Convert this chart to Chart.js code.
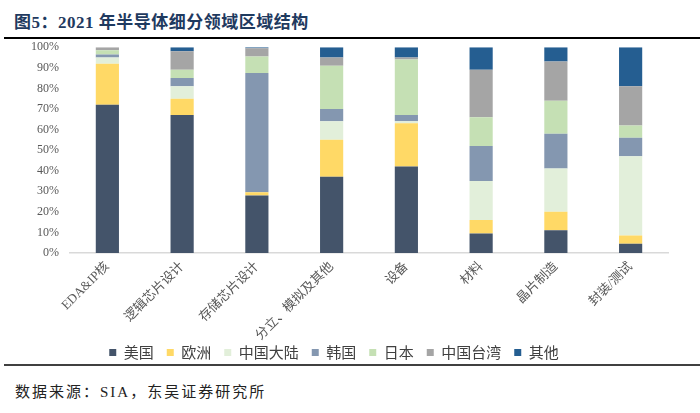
<!DOCTYPE html>
<html>
<head>
<meta charset="utf-8">
<script src="https://cdn.jsdelivr.net/npm/chart.js@4.4.1/dist/chart.umd.min.js"></script>
<style>
  html, body { margin: 0; padding: 0; background: #ffffff; }
  body { width: 700px; height: 413px; position: relative; overflow: hidden; }
  #title { position: absolute; left: 14px; top: 8px; font-family: "Liberation Serif", "Noto Sans CJK SC", serif; font-weight: bold; font-size: 17px; color: #1f3a5f; letter-spacing: 0.5px; white-space: nowrap; }
  #topline { position: absolute; left: 4px; right: 0; top: 37px; height: 2px; background: #000; }
  #wrap { position: absolute; left: 0; top: 29px; width: 700px; height: 341px; }
  #botline { position: absolute; left: 4px; right: 0; top: 364px; height: 2px; background: #404040; }
  #source { position: absolute; left: 15px; top: 380px; font-family: "Liberation Serif", "Noto Sans CJK SC", serif; font-size: 15px; color: #222; letter-spacing: 2px; white-space: nowrap; }
</style>
</head>
<body>
<div id="title">图5：2021 年半导体细分领域区域结构</div>
<div id="wrap"><canvas id="c" width="700" height="341"></canvas></div>
<div id="topline"></div>
<div id="botline"></div>
<div id="source">数据来源：SIA，东吴证券研究所</div>
<script>
const categories = ["EDA&IP核", "逻辑芯片设计", "存储芯片设计", "分立、模拟及其他", "设备", "材料", "晶片制造", "封装/测试"];
const seriesNames = ["美国", "欧洲", "中国大陆", "韩国", "日本", "中国台湾", "其他"];
const usa      = [72, 67, 28, 37, 42, 9.5, 11, 4.5];
const europe   = [20, 8, 1.5, 18, 21, 6.5, 9, 4];
const mainland = [3, 6, 0, 9, 1, 19, 21, 38.5];
const korea    = [1.5, 4, 58, 6, 3, 17, 17, 9];
const japan    = [2, 4, 8, 21, 27, 14, 16, 6];
const taiwan   = [1.5, 9, 4, 4, 1, 23, 19, 19];
const others   = [0, 2, 0.5, 5, 5, 11, 7, 19];
const yTicks = [0, 10, 20, 30, 40, 50, 60, 70, 80, 90, 100];

const seriesValues = [usa, europe, mainland, korea, japan, taiwan, others];
const colors = ["#44546A", "#FFD966", "#E2EFDA", "#8497B0", "#C5E0B4", "#A5A5A5", "#255E91"];

const datasets = seriesNames.map((name, i) => ({
  label: name,
  data: seriesValues[i],
  backgroundColor: colors[i],
  borderWidth: 0,
  categoryPercentage: 1.0,
  barPercentage: 0.31
}));

new Chart(document.getElementById("c"), {
  type: "bar",
  data: { labels: categories, datasets },
  options: {
    responsive: false,
    animation: false,
    layout: { padding: { top: 0, right: 32, left: 0, bottom: 0 } },
    plugins: {
      tooltip: { enabled: false },
      legend: {
        position: "bottom",
        labels: {
          boxWidth: 7,
          boxHeight: 7,
          padding: 13,
          color: "#404040",
          font: { family: "'Noto Sans CJK SC', sans-serif", size: 15 }
        }
      }
    },
    scales: {
      x: {
        stacked: true,
        grid: { display: false, drawTicks: false },
        border: { display: true, color: "#d9d9d9", width: 1.5 },
        ticks: {
          color: "#595959",
          minRotation: 45,
          maxRotation: 45,
          autoSkip: false,
          padding: 6,
          font: { family: "'Liberation Serif', 'Noto Sans CJK SC', serif", size: 13 }
        },
        afterFit(scale) {
          scale.height = 79;
          scale._computeLabelArea = () => undefined;
        }
      },
      y: {
        stacked: true,
        min: 0,
        max: 100,
        afterBuildTicks(scale) { scale.ticks = yTicks.map(v => ({ value: v })); },
        grid: { display: false, drawTicks: false },
        border: { display: false },
        ticks: {
          color: "#595959",
          padding: 11,
          font: { family: "'Liberation Serif', serif", size: 12 },
          callback: v => v + "%"
        },
        afterFit(scale) { scale.width = 70; }
      }
    }
  }
});
</script>
</body>
</html>
